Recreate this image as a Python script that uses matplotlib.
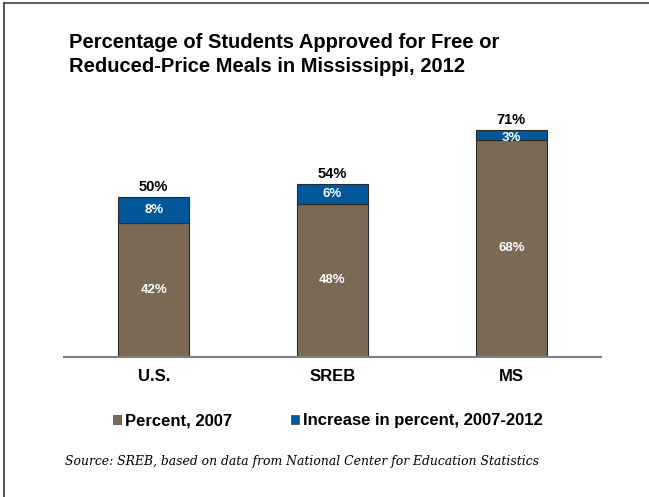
import matplotlib.pyplot as plt
from matplotlib.lines import Line2D
from matplotlib.patches import Patch
import numpy as np

categories = ["U.S.", "SREB", "MS"]
pct_2007 = [42, 48, 68]
increase = [8, 6, 3]
totals = [50, 54, 71]

brown = "#7a6a55"
blue = "#00579a"

plt.rcParams['font.family'] = ['Liberation Sans', 'DejaVu Sans']

fig = plt.figure(figsize=(6.49, 4.97), dpi=100)
ax = fig.add_axes([0.0991, 0.2823, 0.8264, 0.4964])

x = np.arange(len(categories))
w = 0.40
ax.bar(x, pct_2007, w, color=brown, edgecolor="#2a2a2a", linewidth=0.8, zorder=2)
ax.bar(x, increase, w, bottom=pct_2007, color=blue, edgecolor="#2a2a2a", linewidth=0.8, zorder=2)

for i in range(len(categories)):
    ax.text(x[i], pct_2007[i] / 2, f"{pct_2007[i]}%", ha="center", va="center",
            color="white", fontsize=9.5, fontweight="bold")
    # the thin 3% segment label sits a little low in the original
    ax.text(x[i], pct_2007[i] + increase[i] / 2 - (0.9 if increase[i] < 4 else 0), f"{increase[i]}%",
            ha="center", va="center", color="white", fontsize=9.5, fontweight="bold")
    ax.text(x[i], totals[i] + 1.9, f"{totals[i]}%", ha="center", va="baseline",
            color="black", fontsize=10.5, fontweight="bold")

ax.set_xlim(-0.5, 2.5)
ax.set_ylim(0, 77.3)
for s in ["top", "right", "left"]:
    ax.spines[s].set_visible(False)
ax.spines["bottom"].set_color("#808080")
ax.spines["bottom"].set_linewidth(1.5)
ax.set_yticks([])
ax.set_xticks(x)
ax.set_xticklabels(categories, fontsize=12, fontweight="bold")
ax.tick_params(axis="x", length=0, pad=9)

fig.text(0.106, 0.904, "Percentage of Students Approved for Free or",
         ha="left", va="baseline", fontsize=14.5, fontweight="bold")
fig.text(0.106, 0.8545, "Reduced-Price Meals in Mississippi, 2012",
         ha="left", va="baseline", fontsize=14.5, fontweight="bold")

handles = [Patch(facecolor=brown, edgecolor="#555555", linewidth=0.6, label="Percent, 2007"),
           Patch(facecolor=blue, edgecolor="#555555", linewidth=0.6, label="Increase in percent, 2007-2012")]
fig.legend(handles=handles, loc="center", bbox_to_anchor=(0.505, 0.153), ncol=2, frameon=False,
           prop={"weight": "bold", "size": 12}, handlelength=0.5, handleheight=0.5,
           handletextpad=0.25, columnspacing=3.5, borderpad=0, borderaxespad=0)

fig.text(0.1, 0.071, "Source: SREB, based on data from National Center for Education Statistics",
         ha="left", va="center", fontsize=8.9, style="italic", family=["DejaVu Serif"])

# page frame
fig.add_artist(Line2D([0.006, 1.0], [0.994, 0.994], transform=fig.transFigure, color="#444444", linewidth=1.2))
fig.add_artist(Line2D([0.006, 0.006], [0.0, 0.994], transform=fig.transFigure, color="#333333", linewidth=1.2))

fig.savefig("out.png", dpi=100)
